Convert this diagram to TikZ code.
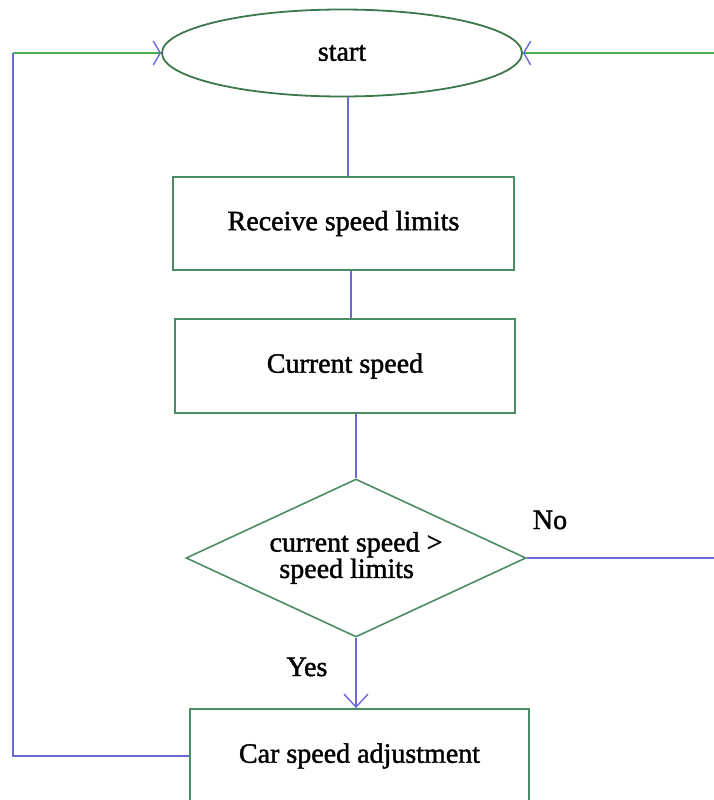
\documentclass[tikz,border=0pt]{standalone}
\usepackage{fontspec}
\setmainfont{Liberation Serif}[FakeBold=1.5]
\usetikzlibrary{shapes.geometric,arrows.meta}
\definecolor{boxgreen}{RGB}{74,140,100}
\definecolor{ringgreen}{RGB}{60,120,75}
\definecolor{linegreen}{RGB}{70,175,80}
\definecolor{lineblue}{RGB}{105,105,215}
\begin{document}
\begin{tikzpicture}[x=1pt,y=-1pt,
  txt/.style={font=\fontsize{28}{25}\selectfont, text=black},
  procbox/.style={txt, draw=boxgreen, line width=1.8pt, rectangle, inner sep=0pt},
  termnode/.style={txt, draw=ringgreen, line width=1.8pt, ellipse, inner sep=0pt,
    minimum width=360pt, minimum height=87pt},
  decision/.style={txt, draw=boxgreen, line width=1.6pt, diamond, aspect=2.15, inner sep=0pt,
    minimum width=340pt, minimum height=158pt, align=left},
  flow/.style={draw=lineblue, line width=1.8pt},
  loopline/.style={draw=linegreen, line width=1.8pt},
  barb/.style={-{Straight Barb[color=lineblue, length=7pt, width=24pt, line width=1.4pt]}},
  downbarb/.style={-{Straight Barb[color=lineblue, length=13pt, width=24pt, line width=1.4pt]}},
  lbl/.style={txt, inner sep=0pt}
]
\useasboundingbox (0,0) rectangle (714,800);

% shapes of the flow
\node[termnode] (start) at (342,53) {start};
\node[procbox, minimum width=341pt, minimum height=93pt] (recv) at (343.5,223.5) {Receive speed limits};
\node[procbox, minimum width=340pt, minimum height=94pt] (cur) at (345,366) {Current speed};
\node[decision] (test) at (356,558) {current speed >\\\hspace{0.35em}speed limits};
\node[procbox, minimum width=339pt, minimum height=94pt] (adj) at (359.5,756) {Car speed adjustment};

% corner points of the two return loops
\coordinate (lt) at (13,53);
\coordinate (rt) at (714,53);
\coordinate (rb) at (714,558);

% main downward flow
\draw[flow] ([xshift=6pt]start.south) -- ([xshift=4.5pt]recv.north);
\draw[flow] ([xshift=7.5pt]recv.south) -- ([xshift=6pt]cur.north);
\draw[flow] ([xshift=11pt]cur.south) -- (test.north);
\draw[flow, downbarb] (test.south) -- (test.south |- adj.north);

% return paths to start
\draw[flow] (adj.west) -- (adj.west -| lt) -- (lt);
\draw[loopline, barb] (lt) -- (start.west);
\draw[flow] (test.east) -- (rb);
\draw[loopline, barb] (rt) -- (start.east);

% branch labels
\node[lbl] (yes) at (307,667) {Yes};
\node[lbl] (no) at (550,520) {No};
\end{tikzpicture}
\end{document}
